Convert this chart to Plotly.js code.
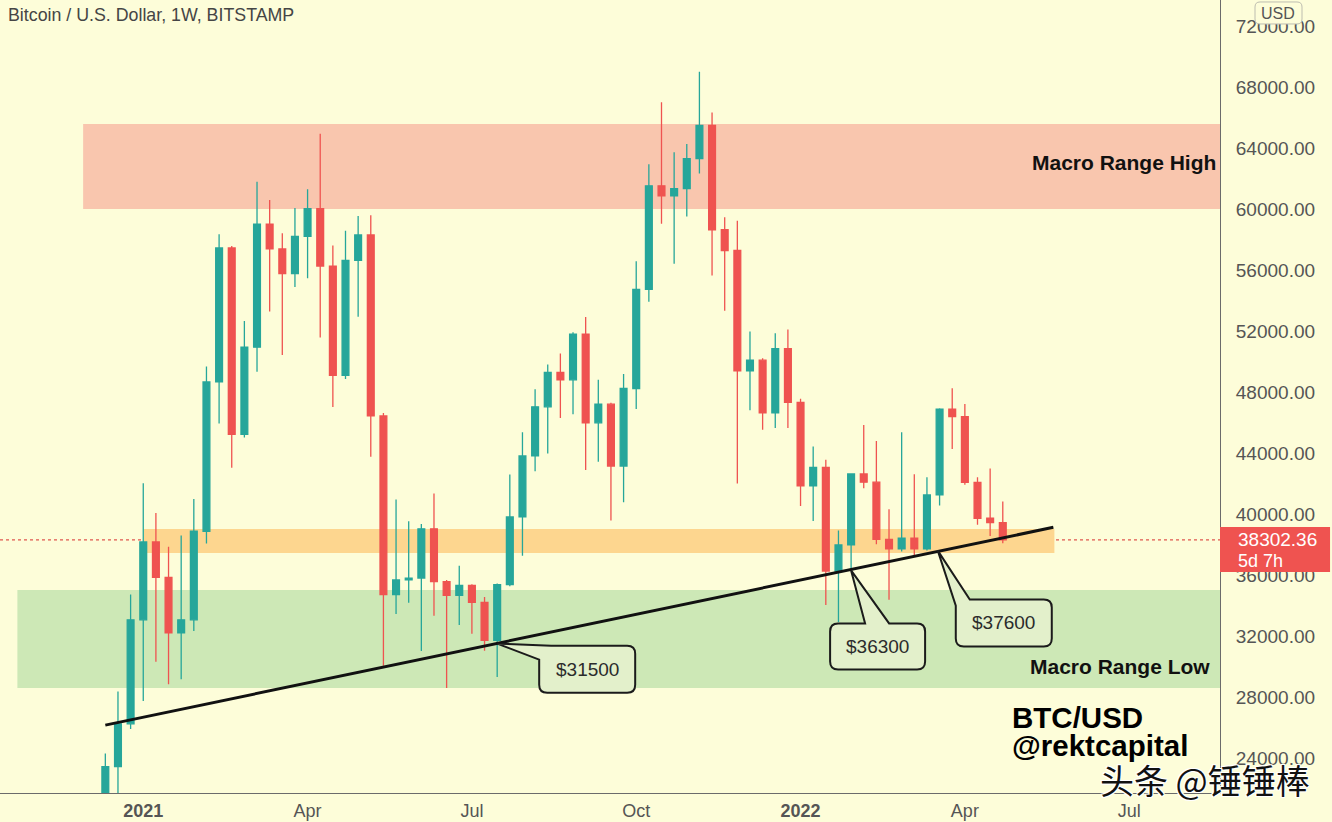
<!DOCTYPE html>
<html><head><meta charset="utf-8">
<script src="https://cdn.plot.ly/plotly-3.0.1.min.js"></script>
<style>html,body{margin:0;padding:0;background:#fdfdd9;}#chart{width:1332px;height:822px;}</style>
</head><body><div id="chart"></div>
<script>
// ---- data (weekly BTC/USD, Bitstamp) ----
const weeks = ['2020-12-14','2020-12-21','2020-12-28',
'2021-01-04','2021-01-11','2021-01-18','2021-01-25','2021-02-01','2021-02-08','2021-02-15','2021-02-22',
'2021-03-01','2021-03-08','2021-03-15','2021-03-22','2021-03-29','2021-04-05','2021-04-12','2021-04-19','2021-04-26',
'2021-05-03','2021-05-10','2021-05-17','2021-05-24','2021-05-31','2021-06-07','2021-06-14','2021-06-21','2021-06-28',
'2021-07-05','2021-07-12','2021-07-19','2021-07-26','2021-08-02','2021-08-09','2021-08-16','2021-08-23','2021-08-30',
'2021-09-06','2021-09-13','2021-09-20','2021-09-27','2021-10-04','2021-10-11','2021-10-18','2021-10-25',
'2021-11-01','2021-11-08','2021-11-15','2021-11-22','2021-11-29','2021-12-06','2021-12-13','2021-12-20','2021-12-27',
'2022-01-03','2022-01-10','2022-01-17','2022-01-24','2022-01-31','2022-02-07','2022-02-14','2022-02-21','2022-02-28',
'2022-03-07','2022-03-14','2022-03-21','2022-03-28','2022-04-04','2022-04-11','2022-04-18','2022-04-25'];

const opens = [19200,23430,26240,33060,38170,35840,32200,33060,38870,48660,57450,45230,50940,59010,57380,55770,58200,60020,56260,49100,56630,58300,46430,34710,35680,35800,39030,35560,34660,35320,34200,31710,35370,39810,43810,47030,49290,48800,51800,45980,47200,43140,48230,54730,61520,60870,61330,63300,65480,58640,57280,49380,50090,46640,50840,47320,41840,43060,36260,37970,42630,42090,38330,37710,38410,37710,41250,46870,46390,42080,39720,39440];
const highs = [24290,28360,34720,42010,40070,37860,38590,40980,49670,58340,57580,52650,61790,60590,58410,60070,61290,64930,57600,58570,59540,59590,46630,40950,39520,39350,41340,35680,36600,35400,34550,35440,42590,45360,48180,49800,50530,51910,52910,48800,47290,49180,56570,62930,67000,63720,64260,69000,66330,59460,59230,51960,50210,51850,52100,47560,44420,43550,38910,42670,45840,44790,40310,45360,42610,42410,46940,48250,47220,42410,42980,40820];
const lows = [19000,21650,25900,27740,30310,28830,29170,32330,38070,45930,43030,45020,49330,53280,50420,54880,55460,51580,47020,48860,52940,43760,30050,33450,34180,31020,33330,28590,32720,32150,31040,29310,35260,37260,42810,43960,46290,46540,42880,43430,39570,40770,46890,53910,59040,56410,59510,62320,55640,53320,42000,46810,45520,45640,45640,40530,39540,34040,32920,36340,41690,38020,34370,37540,37250,37600,40550,44270,41910,39290,38560,38080];
const closes = [23430,26240,33060,38170,35840,32200,33060,38870,48660,57450,45230,50940,59010,57380,55770,58200,60020,56260,49100,56630,58300,46430,34710,35680,35800,39030,35560,34660,35320,34200,31710,35370,39810,43810,47030,49290,48800,51800,45980,47200,43140,48230,54730,61520,60870,61330,63300,65480,58640,57280,49380,50090,46640,50840,47320,41840,43060,36260,37970,42630,42090,38330,37710,38410,37710,41250,46870,46390,42080,39720,39440,38302.36];

const lastPrice = 38302.36;
const lastCountdown = '5d 7h';

// axis ticks
const xTickDates = ['2021-01-04','2021-04-05','2021-07-05','2021-10-04','2022-01-03','2022-04-04','2022-07-04'];
const xTickText = ['<b>2021</b>','Apr','Jul','Oct','<b>2022</b>','Apr','Jul'];
const yTicks = [24000,28000,32000,36000,40000,44000,48000,52000,56000,60000,64000,68000,72000];

// zones
const highZone = [60000, 65570];
const pivotZone = [37445, 39010];
const lowZone = [28590, 35020];

// trendline
const trendDates = ['2020-12-14','2022-05-23'];
const trendPrices = [26157, 39128];

// callouts
const calloutDates = ['2021-07-19','2022-01-31','2022-03-20'];
const calloutPrices = [31500, 36300, 37600];
const calloutLabels = ['$31500','$36300','$37600'];

// ---- drawing ----
const BG = '#fdfdd9';
const UP = '#26a69a', DOWN = '#ef5350';

const traces = [
  {type:'candlestick', x:weeks, open:opens, high:highs, low:lows, close:closes,
   increasing:{line:{color:UP,width:1.3},fillcolor:UP},
   decreasing:{line:{color:DOWN,width:1.3},fillcolor:DOWN},
   whiskerwidth:0, hoverinfo:'skip', showlegend:false},
  {type:'scatter', mode:'lines', x:trendDates, y:trendPrices,
   line:{color:'#111',width:3}, hoverinfo:'skip', showlegend:false}
];

const bubblePaths = [
  'M 0 0 L 54 -2 L 130 -2 Q 138 -2 138 -10 L 138 -41 Q 138 -49 130 -49 L 50 -49 Q 42 -49 42 -41 L 42 -16 Z',
  'M 0 0 L 38 -53 L 66 -53 Q 74 -53 74 -61 L 74 -91 Q 74 -99 66 -99 L -13 -99 Q -21 -99 -21 -91 L -21 -61 Q -21 -53 -13 -53 L 14 -53 Z',
  'M 0 0 L 32 -49 L 106 -49 Q 114 -49 114 -57 L 114 -88 Q 114 -96 106 -96 L 26 -96 Q 18 -96 18 -88 L 18 -55 Z'
];
const bubbleTextShift = [[90,-26],[26,-76],[66,-72]];

const shapes = [
  {type:'rect', xref:'x', yref:'y', x0:'2020-12-01 17:00', x1:'2023-06-01', y0:highZone[0], y1:highZone[1], fillcolor:'#f9c6ae', line:{width:0}, layer:'below'},
  {type:'rect', xref:'x', yref:'y', x0:'2020-10-26 07:00', x1:'2023-06-01', y0:lowZone[0], y1:lowZone[1], fillcolor:'#cde8b6', line:{width:0}, layer:'below'},
  {type:'rect', xref:'x', yref:'y', x0:'2021-01-04 04:00', x1:'2022-05-23 14:00', y0:pivotZone[0], y1:pivotZone[1], fillcolor:'#fdd68f', line:{width:0}, layer:'below'},
  {type:'line', xref:'paper', yref:'y', x0:0, x1:1, y0:lastPrice, y1:lastPrice, line:{color:'#e0574f', width:1.2, dash:'dot'}, layer:'below'},
  {type:'rect', xref:'paper', yref:'y', x0:1, x1:1.0902, y0:36200, y1:39150, fillcolor:'#ef5350', line:{width:0}, layer:'above'},
  {type:'path', xref:'paper', yref:'paper', xsizemode:'pixel', ysizemode:'pixel', xanchor:1.0287, yanchor:0.9975,
   path:'M 5 0 L 42 0 Q 47 0 47 -5 L 47 -17 Q 47 -22 42 -22 L 5 -22 Q 0 -22 0 -17 L 0 -5 Q 0 0 5 0 Z',
   fillcolor:BG, line:{color:'#bdbdb0', width:1}, layer:'above'}
];
calloutDates.forEach((d,i)=>{
  shapes.push({type:'path', xref:'x', yref:'y', xsizemode:'pixel', ysizemode:'pixel', xanchor:d, yanchor:calloutPrices[i],
    path:bubblePaths[i], fillcolor:'#e3f0cb', line:{color:'#1b1b1b', width:2}, layer:'above'});
});

const annotations = [
  {xref:'paper', yref:'paper', x:0.0049, y:0.981, xanchor:'left', yanchor:'middle', showarrow:false,
   text:'Bitcoin / U.S. Dollar, 1W, BITSTAMP', font:{size:17.8, color:'#454545'}},
  {xref:'paper', yref:'paper', x:0.9984, y:0.7957, xanchor:'right', yanchor:'middle', showarrow:false,
   text:'Macro Range High', font:{size:21, color:'#111', weight:'bold'}},
  {xref:'paper', yref:'paper', x:0.9934, y:0.1589, xanchor:'right', yanchor:'middle', showarrow:false,
   text:'Macro Range Low', font:{size:21, color:'#111', weight:'bold'}},
  {xref:'paper', yref:'paper', x:0.8279, y:0.0958, xanchor:'left', yanchor:'middle', showarrow:false,
   text:'BTC/USD', font:{size:29.5, color:'#000', weight:'bold'}},
  {xref:'paper', yref:'paper', x:0.8279, y:0.0593, xanchor:'left', yanchor:'middle', showarrow:false,
   text:'@rektcapital', font:{size:29.5, color:'#000', weight:'bold'}},
  {xref:'paper', yref:'paper', x:0.9, y:0.0164, xanchor:'left', yanchor:'middle', showarrow:false,
   text:'头条 @锤锤棒', font:{family:'Noto Sans CJK SC', size:34, color:'#111',
   shadow:'-1px -1px 0 #fff, 1px -1px 0 #fff, -1px 1px 0 #fff, 1px 1px 0 #fff'}},
  {xref:'paper', yref:'y', x:1.0131, y:lastPrice, xanchor:'left', yanchor:'middle', showarrow:false,
   text:lastPrice.toFixed(2), font:{size:19, color:'#fff'}},
  {xref:'paper', yref:'y', x:1.0131, y:36918, xanchor:'left', yanchor:'middle', showarrow:false,
   text:lastCountdown, font:{size:18, color:'#fff'}},
  {xref:'paper', yref:'paper', x:1.0475, y:0.9836, xanchor:'center', yanchor:'middle', showarrow:false,
   text:'USD', font:{size:16, color:'#555'}}
];
calloutDates.forEach((d,i)=>{
  annotations.push({xref:'x', yref:'y', x:d, y:calloutPrices[i], xshift:bubbleTextShift[i][0], yshift:bubbleTextShift[i][1],
    xanchor:'center', yanchor:'middle', showarrow:false, text:calloutLabels[i], font:{size:19, color:'#2b2b2b'}});
});

const layout = {
  width:1332, height:822,
  margin:{l:0, r:112, t:0, b:29, pad:0},
  paper_bgcolor:BG, plot_bgcolor:BG,
  showlegend:false,
  boxgap:0.23,
  font:{family:'Liberation Sans, Arial, sans-serif', color:'#4d4d4d'},
  xaxis:{type:'date', range:['2020-10-16 16:00','2022-08-23 07:00'], rangeslider:{visible:false},
    showgrid:false, zeroline:false, showline:true, linecolor:'#6b6b6b', linewidth:1,
    ticks:'', tickvals:xTickDates, ticktext:xTickText, tickfont:{size:18, color:'#555'}, ticklabelstandoff:1},
  yaxis:{side:'right', range:[21705,73705], showgrid:false, zeroline:false, showline:true,
    linecolor:'#6b6b6b', linewidth:1, ticks:'', tickvals:yTicks, ticktext:yTicks.map(v=>v.toFixed(2)),
    tickfont:{size:19, color:'#555'}, ticklabelstandoff:11},
  shapes:shapes,
  annotations:annotations
};

Plotly.newPlot('chart', traces, layout, {staticPlot:true, displayModeBar:false});
</script>
</body></html>
